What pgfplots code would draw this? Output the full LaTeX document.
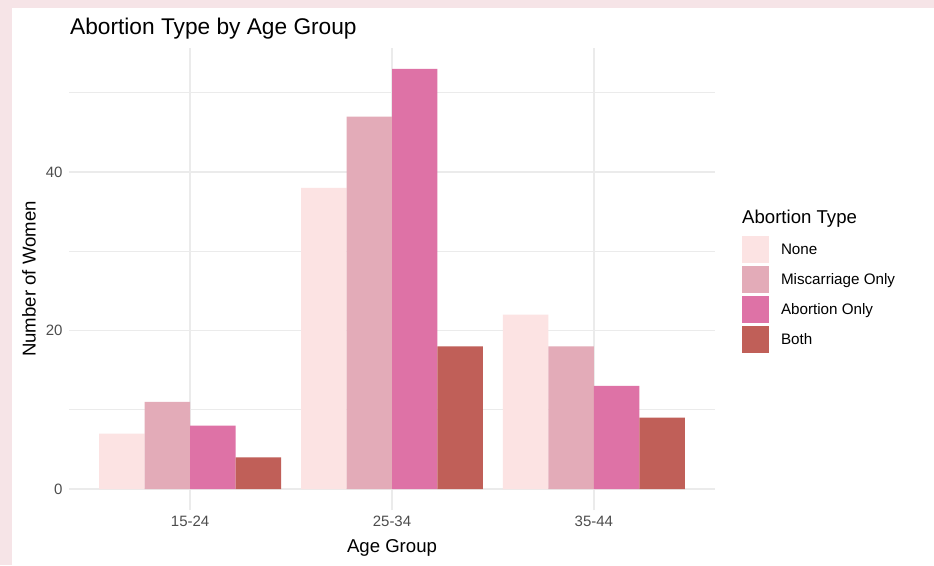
\documentclass[border=0pt]{standalone}
\usepackage{fontspec}
\setmainfont{Liberation Sans}
\usepackage{pgfplots}
\pgfplotsset{compat=1.18}
\definecolor{cNone}{HTML}{FCE3E3}
\definecolor{cMis}{HTML}{E3ABB8}
\definecolor{cAb}{HTML}{DE72A6}
\definecolor{cBoth}{HTML}{C05F58}
\definecolor{gridc}{HTML}{EBEBEB}
\definecolor{tickc}{HTML}{4D4D4D}
\definecolor{bgpink}{HTML}{F6E4E7}
\begin{document}
\begin{tikzpicture}
\fill[bgpink] (0pt,0pt) rectangle (934pt,565pt);
\fill[white] (12pt,0pt) rectangle (934pt,557pt);
\path[use as bounding box] (0pt,0pt) rectangle (934pt,565pt);
\begin{axis}[
  at={(69pt,55pt)}, anchor=south west,
  scale only axis, width=646pt, height=462pt,
  xmin=0.4, xmax=3.6, ymin=-2.65, ymax=55.65,
  ybar=0pt, bar width=45.45pt,
  xtick={1,2,3}, xticklabels={15-24,25-34,35-44},
  ytick={0,20,40}, minor ytick={10,30,50},
  xmajorgrids, ymajorgrids, yminorgrids,
  major grid style={color=gridc, line width=1.6pt},
  minor grid style={color=gridc, line width=0.8pt},
  axis line style={draw=none},
  major tick length=0pt, minor tick length=0pt,
  /pgf/number format/assume math mode=true,
  tick label style={font=\fontsize{15}{18}\selectfont, text=tickc},
  xticklabel style={yshift=-2pt},
  yticklabel style={xshift=-3pt},
  label style={font=\fontsize{18.6}{22}\selectfont},
  xlabel={Age Group},
  ylabel={Number of Women},
  xlabel style={yshift=-6pt},
  ylabel style={yshift=3pt},
  legend image code/.code={\fill[#1] (0pt,-13.5pt) rectangle (27pt,13.5pt);},
  legend style={at={(1.0418,0.593)}, anchor=north west, draw=none, fill=none,
    font=\fontsize{15.2}{18}\selectfont, inner sep=0pt, outer sep=0pt,
    row sep=3pt, nodes={inner sep=0pt},
    /tikz/every odd column/.style={column sep=12pt}},
  legend cell align=left,
]
\addplot[fill=cNone, draw=none] coordinates {(1,7) (2,38) (3,22)};
\addplot[fill=cMis, draw=none] coordinates {(1,11) (2,47) (3,18)};
\addplot[fill=cAb, draw=none] coordinates {(1,8) (2,53) (3,13)};
\addplot[fill=cBoth, draw=none] coordinates {(1,4) (2,18) (3,9)};
\legend{None, Miscarriage Only, Abortion Only, Both}
\end{axis}
\node[anchor=base west, inner sep=0pt, font=\fontsize{22.7}{27}\selectfont] at (70pt,530pt) {Abortion Type by Age Group};
\node[anchor=base west, inner sep=0pt, font=\fontsize{18.6}{22}\selectfont] at (742pt,341pt) {Abortion Type};
\end{tikzpicture}
\end{document}
